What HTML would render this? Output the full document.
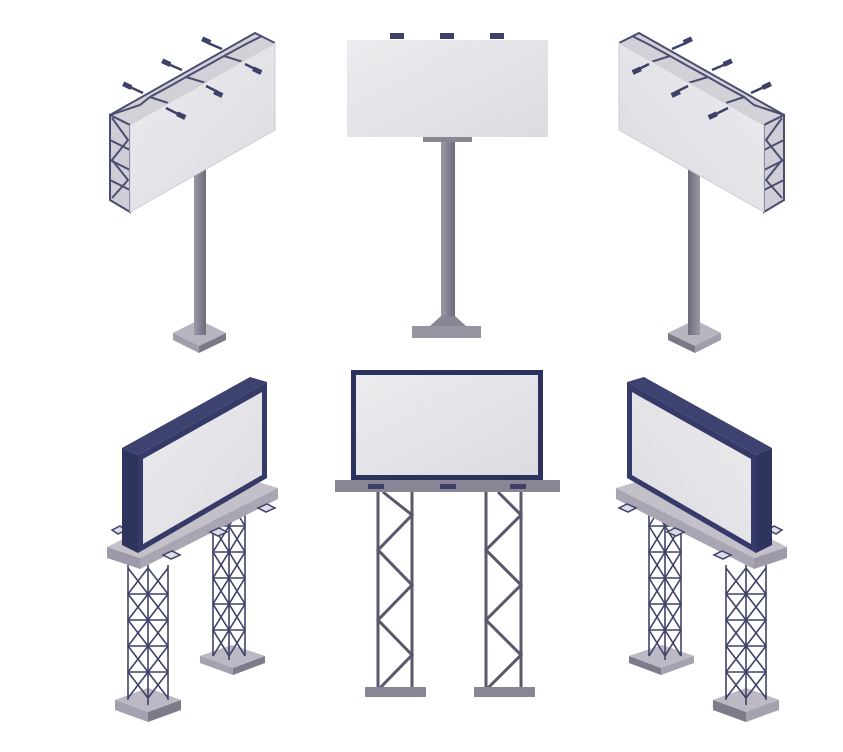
<!DOCTYPE html>
<html><head><meta charset="utf-8"><style>html,body{margin:0;padding:0;background:#fff}svg{display:block}</style></head>
<body>
<svg width="843" height="752" viewBox="0 0 843 752" xmlns="http://www.w3.org/2000/svg">
<defs>
<linearGradient id="pan" x1="0" y1="0" x2="1" y2="1"><stop offset="0" stop-color="#ececef"/><stop offset="1" stop-color="#dcdbe0"/></linearGradient>
<linearGradient id="pole" x1="0" y1="0" x2="1" y2="0"><stop offset="0" stop-color="#9d98a6"/><stop offset="1" stop-color="#6f6a7c"/></linearGradient>
<g id="topbb">
  <!-- pole and base -->
  <polygon points="173,333 199,320 226,333 199,346 199,353 173,340" fill="#a29dab"/>
  <polygon points="199,346 226,333 226,340 199,353" fill="#7d7888"/>
  <polygon points="173,333 199,320 226,333 199,346" fill="#b9b5c0"/>
  <rect x="194" y="160" width="12" height="175" fill="url(#pole)"/>
  <!-- top truss face -->
  <polygon points="110,115 255,33 275,43 130,125" fill="#d2d1d8"/>
  <g stroke="#4b4e70" stroke-width="2" fill="none">
    <polyline points="110,115 255,33 275,43"/>
    <polyline points="110,115 130,125"/>
    <polyline points="110,115 140,105 150,97 172,85 186,77 208,65 224,56 246,44 262,36"/>
    <line x1="150" y1="97" x2="168" y2="103"/><line x1="186" y1="77" x2="206" y2="83"/><line x1="224" y1="56" x2="243" y2="62"/>
    <!-- side truss -->
    <polygon points="110,115 130,125 130,212 110,200" fill="#cfced6"/>
    <polyline points="112,118 128,140 112,160 128,180 112,198"/>
    <line x1="110" y1="140" x2="130" y2="150"/><line x1="110" y1="160" x2="130" y2="170"/><line x1="110" y1="180" x2="130" y2="190"/>
  </g>
  <polygon points="130,125 275,43 275,130 130,212" fill="url(#pan)" stroke="#cfced5" stroke-width="1"/>
  <!-- lamps -->
  <g stroke="#3d4068" stroke-width="2.5">
    <line x1="130" y1="87" x2="143" y2="93"/><line x1="168" y1="64" x2="182" y2="70"/><line x1="208" y1="43" x2="222" y2="49"/>
    <line x1="166" y1="108" x2="180" y2="115"/><line x1="206" y1="86" x2="218" y2="92"/><line x1="245" y1="64" x2="257" y2="70"/>
  </g>
  <g fill="#3d4068">
    <rect x="123" y="83" width="9" height="5" transform="rotate(25 127 85)"/>
    <rect x="162" y="60" width="9" height="5" transform="rotate(25 166 62)"/>
    <rect x="202" y="38" width="9" height="5" transform="rotate(25 206 40)"/>
    <rect x="177" y="113" width="9" height="5" transform="rotate(25 181 115)"/>
    <rect x="214" y="91" width="9" height="5" transform="rotate(25 218 93)"/>
    <rect x="253" y="68" width="9" height="5" transform="rotate(25 257 70)"/>
  </g>
</g>
<g id="botbb">
  <!-- back tower -->
  <polygon points="200,656 232,645 265,656 233,668 233,675 200,663" fill="#a6a1ae"/>
  <polygon points="233,668 265,656 265,663 233,675" fill="#7f7a8a"/>
  <polygon points="200,656 232,645 265,656 233,668" fill="#bdb9c4"/>
  <g stroke="#3f4268" stroke-width="1.6" fill="none">
    <line x1="213" y1="500" x2="213" y2="656"/><line x1="229" y1="500" x2="229" y2="660"/><line x1="245" y1="500" x2="245" y2="656"/>
    <polyline points="213,500 229,526 213,552 229,578 213,604 229,630 213,656"/>
    <polyline points="229,500 213,526 229,552 213,578 229,604 213,630 229,656"/>
    <polyline points="229,500 245,526 229,552 245,578 229,604 245,630 229,656"/>
    <polyline points="245,500 229,526 245,552 229,578 245,604 229,630 245,656"/>
    <line x1="213" y1="526" x2="245" y2="526"/><line x1="213" y1="552" x2="245" y2="552"/><line x1="213" y1="578" x2="245" y2="578"/><line x1="213" y1="604" x2="245" y2="604"/><line x1="213" y1="630" x2="245" y2="630"/>
  </g>
  <!-- front tower base -->
  <polygon points="115,700 148,688 181,700 148,712 148,722 115,710" fill="#a6a1ae"/>
  <polygon points="148,712 181,700 181,710 148,722" fill="#7f7a8a"/>
  <polygon points="115,700 148,688 181,700 148,712" fill="#bdb9c4"/>
  <g stroke="#3f4268" stroke-width="1.6" fill="none">
    <line x1="128" y1="565" x2="128" y2="700"/><line x1="148" y1="565" x2="148" y2="705"/><line x1="168" y1="565" x2="168" y2="700"/>
    <polyline points="128,568 148,594 128,620 148,646 128,672 148,698"/>
    <polyline points="148,568 128,594 148,620 128,646 148,672 128,698"/>
    <polyline points="148,568 168,594 148,620 168,646 148,672 168,698"/>
    <polyline points="168,568 148,594 168,620 148,646 168,672 148,698"/>
    <line x1="128" y1="594" x2="168" y2="594"/><line x1="128" y1="620" x2="168" y2="620"/><line x1="128" y1="646" x2="168" y2="646"/><line x1="128" y1="672" x2="168" y2="672"/>
  </g>
  <!-- slab -->
  <polygon points="107,547 245,478 278,488 140,558" fill="#c4c0ca"/>
  <polygon points="107,547 140,558 140,569 107,558" fill="#9e99a8"/>
  <polygon points="140,558 278,488 278,499 140,569" fill="#aaa5b3"/>
  <!-- lamps under slab -->
  <g fill="#dcdde6" stroke="#3f4268" stroke-width="1.5">
    <polygon points="163,555 172,551 180,555 171,559"/>
    <polygon points="210,532 219,528 227,532 218,536"/>
    <polygon points="258,508 267,504 275,508 266,512"/>
    <polygon points="112,530 120,526 126,530 118,534"/>
  </g>
  <!-- frame box -->
  <polygon points="122,448 250,377 267,382 138,455" fill="#3d4270"/>
  <polygon points="122,448 138,455 138,553 122,545" fill="#2f345e"/>
  <polygon points="138,455 267,382 267,478 138,553" fill="#353a68"/>
  <polygon points="143,459 262,392 262,475 143,544" fill="url(#pan)"/>
</g>
</defs>
<rect width="843" height="752" fill="#fff"/>
<use href="#topbb"/>
<use href="#topbb" transform="translate(894,0) scale(-1,1)"/>
<use href="#botbb"/>
<use href="#botbb" transform="translate(894,0) scale(-1,1)"/>
<!-- top center -->
<g fill="#3d4068">
  <rect x="390" y="33" width="14" height="6"/><rect x="440" y="33" width="14" height="6"/><rect x="490" y="33" width="14" height="6"/>
</g>
<rect x="347" y="40" width="201" height="97" fill="url(#pan)"/>
<rect x="423" y="137" width="49" height="5" fill="#8a8594"/>
<rect x="441" y="142" width="14" height="185" fill="url(#pole)"/>
<polygon points="430,326 441,316 455,316 466,326" fill="#8a8594"/>
<rect x="412" y="326" width="69" height="12" fill="#9893a1"/>
<!-- bottom center -->
<g stroke="#5c576b" stroke-width="3" fill="none">
  <line x1="378" y1="492" x2="378" y2="690"/><line x1="412" y1="492" x2="412" y2="690"/>
  <polyline points="383,492 412,515 378,550 412,585 378,620 412,655 378,690"/>
  <line x1="486" y1="492" x2="486" y2="690"/><line x1="521" y1="492" x2="521" y2="690"/>
  <polyline points="498,492 521,515 486,550 521,585 486,620 521,655 486,690"/>
</g>
<rect x="365" y="687" width="61" height="10" fill="#8a8594"/>
<rect x="474" y="687" width="61" height="10" fill="#8a8594"/>
<rect x="351" y="370" width="192" height="110" fill="#2b3260"/>
<rect x="356" y="375" width="182" height="100" fill="url(#pan)"/>
<rect x="335" y="480" width="225" height="12" fill="#8a8594"/>
<g fill="#3d4068"><rect x="368" y="484" width="16" height="5"/><rect x="440" y="484" width="16" height="5"/><rect x="510" y="484" width="16" height="5"/></g>
</svg>
</body></html>
